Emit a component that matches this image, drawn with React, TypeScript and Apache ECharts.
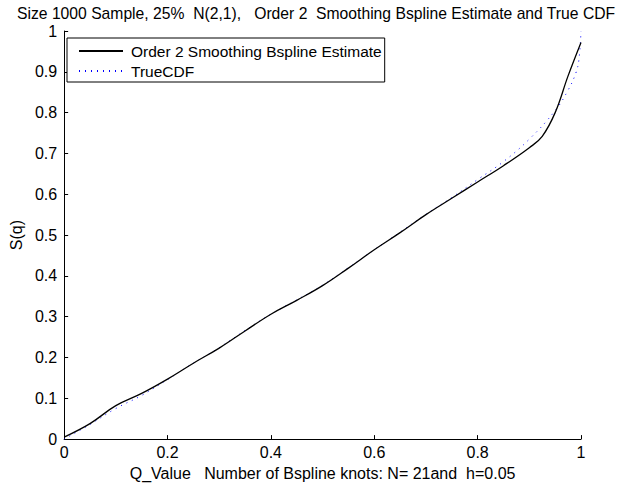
import React, { useEffect, useRef } from "react";
import * as echarts from "echarts";

const titleText = "Size 1000 Sample, 25%  N(2,1),   Order 2  Smoothing Bspline Estimate and True CDF";
const xAxisName = "Q_Value   Number of Bspline knots: N= 21and  h=0.05";
const yAxisName = "S(q)";
const seriesNames = ["Order 2 Smoothing Bspline Estimate", "TrueCDF"];
const xTicks = [0, 0.2, 0.4, 0.6, 0.8, 1];
const yTicks = [0, 0.1, 0.2, 0.3, 0.4, 0.5, 0.6, 0.7, 0.8, 0.9, 1];

const estimateQ = [0, 0.05, 0.1, 0.15, 0.2, 0.25, 0.3, 0.35, 0.4, 0.45, 0.5, 0.55, 0.6, 0.65, 0.7, 0.75, 0.8, 0.85, 0.9, 0.925, 0.95, 0.975, 1.0];
const estimateS = [0.005, 0.038, 0.082, 0.112, 0.147, 0.186, 0.223, 0.265, 0.306, 0.34, 0.376, 0.419, 0.464, 0.506, 0.55, 0.59, 0.63, 0.67, 0.714, 0.742, 0.8, 0.89, 0.972];

const trueQ = [0, 0.05, 0.1, 0.15, 0.2, 0.25, 0.3, 0.35, 0.4, 0.45, 0.5, 0.55, 0.6, 0.65, 0.7, 0.75, 0.8, 0.85, 0.9, 0.95, 0.975, 0.99, 0.996, 1.0];
const trueS = [0.0, 0.036, 0.075, 0.107, 0.146, 0.186, 0.224, 0.266, 0.306, 0.341, 0.377, 0.42, 0.464, 0.507, 0.551, 0.592, 0.636, 0.68, 0.735, 0.805, 0.855, 0.897, 0.93, 1.0];

const FONT = "Liberation Sans, Arial, Helvetica, sans-serif";

export default function App() {
  const ref = useRef<HTMLDivElement>(null);
  useEffect(() => {
    if (!ref.current) return;
    const chart = echarts.init(ref.current, undefined, { renderer: "svg" });
    const fmt = (v: number) => String(Math.round(v * 10) / 10);
    chart.setOption({
      animation: false,
      backgroundColor: "#fff",
      textStyle: { fontFamily: FONT },
      title: {
        text: titleText,
        left: 17,
        top: 4,
        padding: 0,
        textStyle: { fontFamily: FONT, fontSize: 15.7, fontWeight: "normal", color: "#000", lineHeight: 18 },
      },
      legend: {
        orient: "vertical",
        left: 67,
        top: 38,
        backgroundColor: "#fff",
        borderColor: "#000",
        borderWidth: 1,
        borderRadius: 0,
        padding: [5, 3, 3, 11],
        itemWidth: 44,
        itemHeight: 10,
        itemGap: 4,
        itemStyle: { opacity: 0 },
        textStyle: { fontFamily: FONT, fontSize: 15.5, color: "#000", padding: [0, 0, 0, 3], lineHeight: 16 },
        data: seriesNames,
      },
      grid: { left: 61, right: 62, top: 31, bottom: 46, containLabel: false },
      xAxis: {
        type: "value",
        min: 0,
        max: 1,
        interval: 0.2,
        name: xAxisName,
        nameLocation: "middle",
        nameGap: 22,
        nameTextStyle: { fontFamily: FONT, fontSize: 16, color: "#000" },
        axisLine: { show: true, onZero: false, lineStyle: { color: "#000", width: 1 } },
        axisTick: { show: true, inside: true, length: 4, lineStyle: { color: "#000" } },
        axisLabel: { fontFamily: FONT, fontSize: 16, color: "#000", margin: 5, formatter: fmt, customValues: xTicks },
        splitLine: { show: false },
      },
      yAxis: {
        type: "value",
        min: 0,
        max: 1,
        interval: 0.1,
        name: yAxisName,
        nameLocation: "middle",
        nameGap: 38,
        nameRotate: 90,
        nameTextStyle: { fontFamily: FONT, fontSize: 16, color: "#000" },
        axisLine: { show: true, onZero: false, lineStyle: { color: "#000", width: 1 } },
        axisTick: { show: true, inside: true, length: 4, lineStyle: { color: "#000" } },
        axisLabel: { fontFamily: FONT, fontSize: 16, color: "#000", margin: 7, formatter: fmt, customValues: yTicks },
        splitLine: { show: false },
      },
      series: [
        {
          name: seriesNames[0],
          type: "line",
          data: estimateQ.map((q, i) => [q, estimateS[i]]),
          showSymbol: false,
          symbol: "none",
          smooth: 0.4,
          lineStyle: { color: "#000", width: 1.3 },
          itemStyle: { color: "#000" },
          z: 3,
        },
        {
          name: seriesNames[1],
          type: "line",
          data: trueQ.map((q, i) => [q, trueS[i]]),
          showSymbol: false,
          symbol: "none",
          smooth: 0.4,
          lineStyle: { color: "#0000ff", width: 1, type: [1, 5] },
          itemStyle: { color: "#0000ff" },
          z: 2,
        },
      ],
    });
    return () => chart.dispose();
  }, []);
  return <div ref={ref} style={{ width: 643, height: 486, position: "absolute", left: 0, top: 0 }} />;
}
